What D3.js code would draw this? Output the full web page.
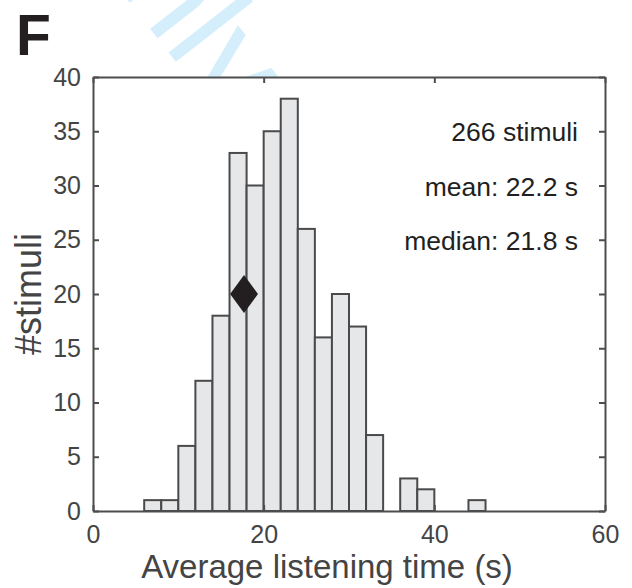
<!DOCTYPE html>
<html>
<head>
<meta charset="utf-8">
<script src="https://cdn.jsdelivr.net/npm/d3@7"></script>
<style>
  body { margin: 0; background: #fff; }
  text { font-family: "Liberation Sans", Arial, Helvetica, sans-serif; }
</style>
</head>
<body>
<div id="chart"></div>
<script>
/* DATA */
const binStarts = [6, 8, 10, 12, 14, 16, 18, 20, 22, 24, 26, 28, 30, 32, 34, 36, 38, 40, 42, 44];
const counts    = [1, 1, 6, 12, 18, 33, 30, 35, 38, 26, 16, 20, 17, 7, 0, 3, 2, 0, 0, 1];
const binWidth = 2;
const marker = { x: 17.7, y: 20 };
const notes = ["266 stimuli", "mean: 22.2 s", "median: 21.8 s"];
const xTicks = [0, 20, 40, 60];
const yTicks = [0, 5, 10, 15, 20, 25, 30, 35, 40];

/* CONSTANTS */
const width = 632, height = 588,
  margin = { top: 77, right: 27, bottom: 77, left: 93 };
const axisColor = "#4d4d4d";

const svg = d3.select("#chart")
  .append("svg")
  .attr("width", width)
  .attr("height", height);

/* SCALES */
const xScale = d3.scaleLinear()
  .domain([0, 60])
  .range([margin.left, width - margin.right]);

const yScale = d3.scaleLinear()
  .domain([0, 40])
  .range([height - margin.bottom, margin.top]);

// watermark behind the (white) plot area
svg.append("text")
  .attr("transform", "translate(223,122) rotate(52)")
  .attr("text-anchor", "end")
  .attr("fill", "#d4eefb")
  .style("font-size", "135px")
  .text("For Peer Review Only");

svg.append("rect")
  .attr("x", xScale(0))
  .attr("y", yScale(40))
  .attr("width", xScale(60) - xScale(0))
  .attr("height", yScale(0) - yScale(40))
  .attr("fill", "#fff");

/* BARS */
const data = binStarts.map((d, i) => ({ x0: d, n: counts[i] }));

svg.selectAll(".bar")
  .data(data.filter(d => d.n > 0))
  .join("rect")
  .attr("class", "bar")
  .attr("x", d => xScale(d.x0))
  .attr("width", d => xScale(d.x0 + binWidth) - xScale(d.x0))
  .attr("y", d => yScale(d.n))
  .attr("height", d => yScale(0) - yScale(d.n))
  .attr("fill", "#e6e7e9")
  .attr("stroke", "#4a4a4a")
  .attr("stroke-width", 2);

/* AXES (box with inward ticks) */
const tick = 6;
const axBottom = svg.append("g")
  .attr("transform", `translate(0,${yScale(0)})`)
  .call(d3.axisBottom(xScale).tickValues(xTicks).tickSizeInner(-tick).tickSizeOuter(0).tickPadding(14));
const axTop = svg.append("g")
  .attr("transform", `translate(0,${yScale(40)})`)
  .call(d3.axisTop(xScale).tickValues(xTicks).tickSizeInner(-tick).tickSizeOuter(0).tickFormat(""));
const axLeft = svg.append("g")
  .attr("transform", `translate(${xScale(0)},0)`)
  .call(d3.axisLeft(yScale).tickValues(yTicks).tickSizeInner(-tick).tickSizeOuter(0).tickPadding(12));
const axRight = svg.append("g")
  .attr("transform", `translate(${xScale(60)},0)`)
  .call(d3.axisRight(yScale).tickValues(yTicks).tickSizeInner(-tick).tickSizeOuter(0).tickFormat(""));

[axBottom, axTop, axLeft, axRight].forEach(g => {
  g.select(".domain").attr("stroke", axisColor).attr("stroke-width", 2);
  g.selectAll(".tick line").attr("stroke", axisColor).attr("stroke-width", 2);
  g.selectAll(".tick text")
    .attr("fill", "#444")
    .style("font-size", "25px")
    .style("font-family", "Liberation Sans, Arial, sans-serif");
});

/* MARKER */
svg.append("path")
  .attr("d", d3.symbol().type(d3.symbolDiamond).size(417))
  .attr("transform", `translate(${xScale(marker.x)},${yScale(marker.y)}) scale(1.27,1)`)
  .attr("fill", "#231f20");

/* ANNOTATIONS */
svg.selectAll(".note")
  .data(notes)
  .join("text")
  .attr("class", "note")
  .attr("x", 578)
  .attr("y", (d, i) => 141 + i * 54.5)
  .attr("text-anchor", "end")
  .attr("fill", "#231f20")
  .style("font-size", "26.5px")
  .text(d => d);

/* LABELS */
svg.append("text")
  .attr("x", 327)
  .attr("y", 578)
  .attr("text-anchor", "middle")
  .attr("fill", "#444")
  .style("font-size", "33px")
  .text("Average listening time (s)");

svg.append("text")
  .attr("transform", "translate(41,294) rotate(-90)")
  .attr("text-anchor", "middle")
  .attr("fill", "#444")
  .style("font-size", "36px")
  .text("#stimuli");

svg.append("text")
  .attr("x", 16)
  .attr("y", 55)
  .attr("fill", "#231f20")
  .style("font-size", "57px")
  .style("font-weight", "bold")
  .text("F");
</script>
</body>
</html>
